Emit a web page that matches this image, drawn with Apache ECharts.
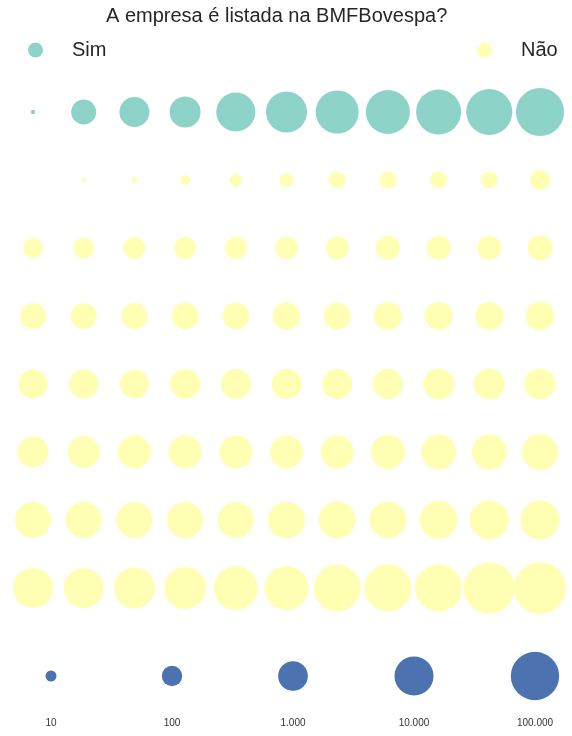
<!DOCTYPE html>
<html>
<head>
<meta charset="utf-8">
<script src="https://cdn.jsdelivr.net/npm/echarts@6/dist/echarts.min.js"></script>
<style>html,body{margin:0;padding:0;background:#fff}#c{width:572px;height:736px}</style>
</head>
<body>
<div id="c"></div>
<script>
var titleText = 'A empresa é listada na BMFBovespa?';
var seriesNames = ['Sim', 'Não'];
var columns = [0, 1, 2, 3, 4, 5, 6, 7, 8, 9, 10];
// Row "Sim" values (one per column)
var simValues = [2, 318, 1090, 1394, 10000, 16370, 26770, 34260, 43850, 56100, 91800];
// Rows "Não" values (7 rows x 11 columns); null = no bubble
var naoRow1 = [null, 2, 3, 8, 16, 21, 44, 44, 44, 44, 92];
var naoRow2 = [92, 117, 150, 150, 150, 170, 192, 246, 246, 246, 314];
var naoRow3 = [402, 402, 455, 514, 514, 582, 514, 658, 658, 658, 744];
var naoRow4 = [842, 842, 842, 1090, 1090, 1090, 1090, 1090, 1394, 1394, 1394];
var naoRow5 = [1394, 1762, 2254, 2254, 2254, 2254, 2254, 2884, 3690, 3690, 4720];
var naoRow6 = [4720, 4720, 4720, 4720, 4720, 6040, 6040, 6040, 7727, 9880, 9880];
var naoRow7 = [12640, 12640, 16170, 20690, 33840, 33840, 70800, 70800, 70800, 189700, 242700];
var naoRows = [naoRow1, naoRow2, naoRow3, naoRow4, naoRow5, naoRow6, naoRow7];
// Size legend
var sizeLegendValues = [10, 100, 1000, 10000, 100000];
var sizeLegendLabels = ['10', '100', '1.000', '10.000', '100.000'];

function sizeOf(v) { return 1.65 + 9.35 * Math.log10(v); }

var simData = simValues.map(function (v, i) { return [columns[i], 0, v]; });
var naoData = [];
naoRows.forEach(function (row, r) {
  row.forEach(function (v, i) { if (v != null) naoData.push([columns[i], r + 1, v]); });
});
var legendData = sizeLegendValues.map(function (v, i) { return [sizeLegendLabels[i], 0.5, v]; });

var chart = echarts.init(document.getElementById('c'), null, {renderer: 'canvas'});
var font = 'Liberation Sans, Arial, sans-serif';
chart.setOption({
  animation: false,
  backgroundColor: '#ffffff',
  title: {
    text: titleText, left: 101, top: 1,
    textStyle: {fontFamily: font, fontSize: 20, fontWeight: 'normal', color: '#262626'}
  },
  legend: [{
    data: [seriesNames[0]], left: 23, top: 35, icon: 'circle', itemWidth: 15, itemHeight: 15,
    textStyle: {fontFamily: font, fontSize: 20, color: '#262626', padding: [0, 0, 0, 24]}
  }, {
    data: [seriesNames[1]], left: 472, top: 35, icon: 'circle', itemWidth: 15, itemHeight: 15,
    textStyle: {fontFamily: font, fontSize: 20, color: '#262626', padding: [0, 0, 0, 24]}
  }],
  grid: [
    {left: 7.65, width: 557.7, top: 78, height: 544},
    {left: 51, width: 484, top: 640, height: 72}
  ],
  xAxis: [
    {gridIndex: 0, type: 'value', min: -0.5, max: 10.5, show: false},
    {gridIndex: 1, type: 'category', boundaryGap: false, data: sizeLegendLabels,
     axisLine: {show: false}, axisTick: {show: false}, splitLine: {show: false},
     axisLabel: {fontFamily: 'Liberation Sans Narrow, Liberation Sans, Arial', fontSize: 10, color: '#333', margin: 6}}
  ],
  yAxis: [
    {gridIndex: 0, type: 'value', min: -0.5, max: 7.5, inverse: true, show: false},
    {gridIndex: 1, type: 'value', min: 0, max: 1, show: false}
  ],
  series: [{
    name: seriesNames[0], type: 'scatter', xAxisIndex: 0, yAxisIndex: 0, clip: true,
    data: simData, symbolSize: function (d) { return sizeOf(d[2]); },
    itemStyle: {color: '#8dd3c7', opacity: 1}
  }, {
    name: seriesNames[1], type: 'scatter', xAxisIndex: 0, yAxisIndex: 0, clip: true,
    data: naoData, symbolSize: function (d) { return sizeOf(d[2]); },
    itemStyle: {color: '#ffffb3', opacity: 1}
  }, {
    name: 'Tamanho', type: 'scatter', xAxisIndex: 1, yAxisIndex: 1, clip: false,
    data: legendData, symbolSize: function (d) { return sizeOf(d[2]); },
    itemStyle: {color: '#4c72b0', opacity: 1}
  }]
});
</script>
</body>
</html>
